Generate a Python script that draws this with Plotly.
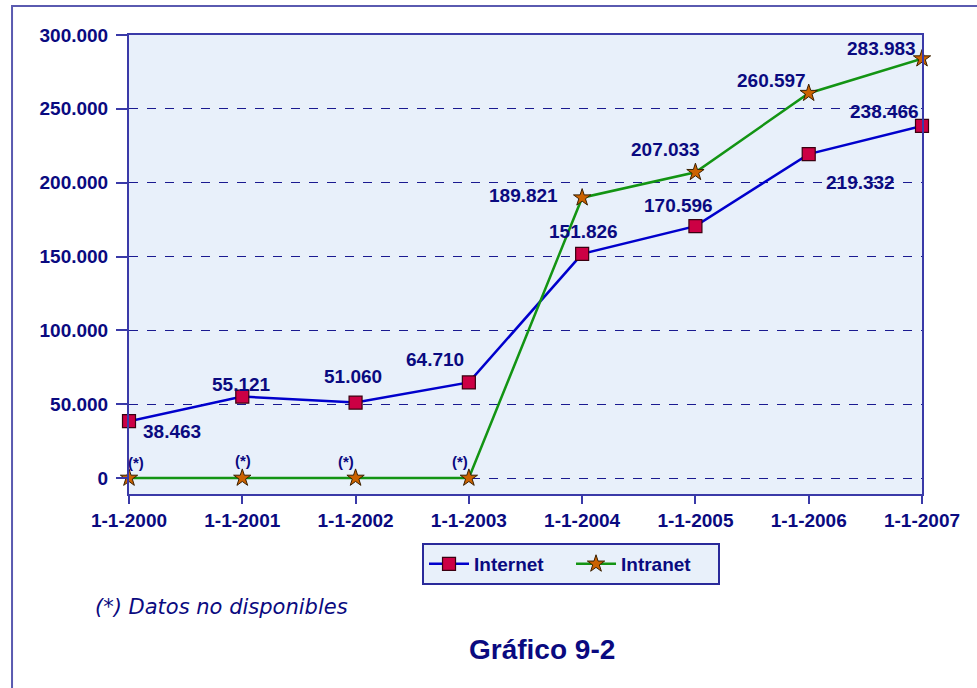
import plotly.graph_objects as go

# Series data
fechas = ["1-1-2000", "1-1-2001", "1-1-2002", "1-1-2003",
          "1-1-2004", "1-1-2005", "1-1-2006", "1-1-2007"]
internet = [38463, 55121, 51060, 64710, 151826, 170596, 219332, 238466]
intranet = [0, 0, 0, 0, 189821, 207033, 260597, 283983]
intranet_disponible = [False, False, False, False, True, True, True, True]

y_ticks = [0, 50000, 100000, 150000, 200000, 250000, 300000]

NAVY = "#0a0a80"
FRAME = "#5a5ab0"
BG = "#e8f0fa"
FONT = "Liberation Sans, Arial, sans-serif"


def miles(v):
    return f"{v:,}".replace(",", ".")


fig = go.Figure()

fig.add_trace(go.Scatter(
    x=fechas, y=internet, name="Internet", mode="lines+markers",
    line=dict(color="#0000cc", width=2.5),
    marker=dict(symbol="square", size=13, color="#cc0044",
                line=dict(color="#3a0010", width=1.2)),
    cliponaxis=False,
))
fig.add_trace(go.Scatter(
    x=fechas, y=intranet, name="Intranet", mode="lines+markers",
    line=dict(color="#139413", width=2.5),
    marker=dict(symbol="star", size=13, color="#cc6200",
                line=dict(color="#3a2000", width=1)),
    cliponaxis=False,
))

# label offsets in pixels (right, down) relative to each point
off_internet = [(43, 10), (-1, -12), (-3, -26), (-34, -23),
                (1, -22), (-17, -21), (52, 28), (-38, -14)]
off_intranet = [(7, -16), (1, -18), (-10, -17), (-9, -17),
                (-59, -2), (-30, -23), (-37, -13), (-41, -10)]

annotations = []
for i, (f, v) in enumerate(zip(fechas, internet)):
    dx, dy = off_internet[i]
    annotations.append(dict(x=f, y=v, text=miles(v), showarrow=False,
                            xshift=dx, yshift=-dy,
                            font=dict(family=FONT, size=19, color=NAVY, weight="bold")))
for i, (f, v, ok) in enumerate(zip(fechas, intranet, intranet_disponible)):
    dx, dy = off_intranet[i]
    txt = miles(v) if ok else "(*)"
    size = 19 if ok else 15
    annotations.append(dict(x=f, y=v, text=txt, showarrow=False,
                            xshift=dx, yshift=-dy,
                            font=dict(family=FONT, size=size, color=NAVY, weight="bold")))

annotations.append(dict(
    xref="paper", yref="paper", x=-0.0454, y=-0.246, xanchor="left", yanchor="middle",
    text="<i>(*) Datos no disponibles</i>", showarrow=False,
    font=dict(family="DejaVu Sans, sans-serif", size=21, color=NAVY)))
annotations.append(dict(
    xref="paper", yref="paper", x=0.521, y=-0.338, xanchor="center", yanchor="middle",
    text="<b>Gráfico 9-2</b>", showarrow=False,
    font=dict(family=FONT, size=28, color=NAVY)))

# outer frame (open to the right and bottom of the page)
shapes = [dict(type="rect", xref="paper", yref="paper",
               x0=-0.1475, y0=-0.45, x1=1.08, y1=1.0632,
               line=dict(color=FRAME, width=2), layer="below")]

fig.update_layout(
    width=977, height=688,
    margin=dict(l=129, r=55, t=35, b=194),
    paper_bgcolor="white",
    plot_bgcolor=BG,
    font=dict(family=FONT, color=NAVY, size=19),
    showlegend=True,
    legend=dict(orientation="h", x=0.3695, xanchor="left",
                y=-0.1068, yanchor="top",
                bgcolor=BG, bordercolor="#2a2a9a", borderwidth=2,
                font=dict(family=FONT, size=19, color=NAVY, weight="bold"),
                itemwidth=40, tracegroupgap=0,
                entrywidth=92, entrywidthmode="pixels"),
    annotations=annotations,
    shapes=shapes,
)

fig.update_xaxes(
    type="category", range=[0, 7],
    showgrid=False, zeroline=False,
    showline=True, linecolor="#3a3aa8", linewidth=2, mirror=True,
    ticks="outside", ticklen=8, tickcolor="#3a3aa8", tickwidth=2,
    tickfont=dict(family=FONT, size=19, color=NAVY, weight="bold"),
)
fig.update_yaxes(
    range=[-10835, 300000],
    tickvals=y_ticks, ticktext=[miles(v) for v in y_ticks],
    showgrid=True, gridcolor="#1a1a90", griddash="dash", gridwidth=1,
    zeroline=False,
    showline=True, linecolor="#3a3aa8", linewidth=2, mirror=True,
    ticks="outside", ticklen=11, tickcolor="#3a3aa8", tickwidth=2,
    ticklabelstandoff=4,
    tickfont=dict(family=FONT, size=19, color=NAVY, weight="bold"),
)

fig.write_html("out.html")
